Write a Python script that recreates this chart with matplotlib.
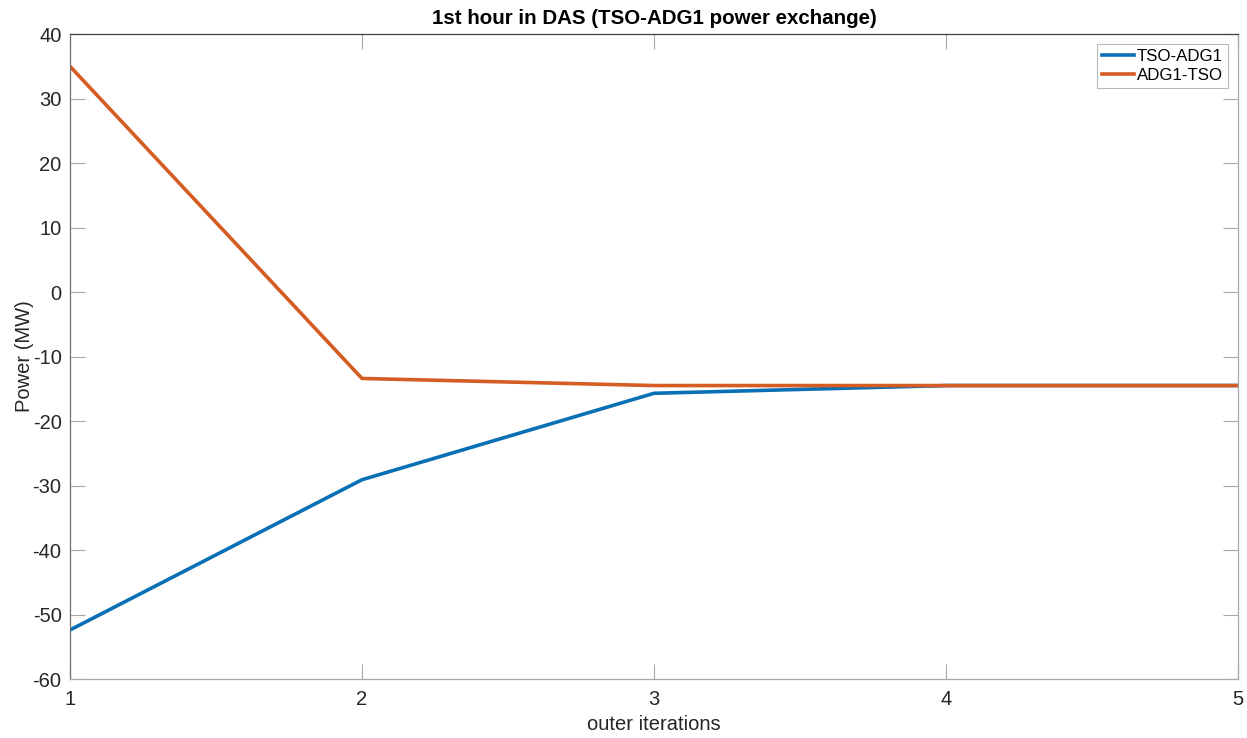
import matplotlib
matplotlib.use('Agg')
import matplotlib.pyplot as plt

iterations = [1, 2, 3, 4, 5]
tso_adg1 = [-52.4, -29.1, -15.7, -14.5, -14.5]
adg1_tso = [35.0, -13.4, -14.5, -14.5, -14.5]

plt.rcParams['font.family'] = ['Liberation Sans', 'DejaVu Sans']
plt.rcParams['axes.unicode_minus'] = False

fig = plt.figure(figsize=(12.47, 7.38), dpi=100)
ax = fig.add_axes([0.0561, 0.0799, 0.9367, 0.874])

ax.plot(iterations, tso_adg1, color='#0A70B5', lw=2.6, label='TSO-ADG1')
ax.plot(iterations, adg1_tso, color='#D55C22', lw=2.6, label='ADG1-TSO')

ax.set_xlim(1, 5)
ax.set_ylim(-60, 40)
ax.set_xticks(iterations)
ax.set_yticks(range(-60, 41, 10))

for s in ax.spines.values():
    s.set_color('#a8a8a8')
    s.set_linewidth(0.9)
ax.spines['top'].set_color('#404040')
ax.spines['left'].set_color('#707070')
ax.tick_params(direction='in', length=11, width=0.8, color='#a8a8a8',
               labelsize=14.5, labelcolor='#262626', top=True, right=True)
ax.tick_params(axis='x', pad=8)
ax.tick_params(axis='y', pad=6)

ax.set_xlabel('outer iterations', fontsize=14.5, color='#262626', labelpad=4)
ax.set_ylabel('Power (MW)', fontsize=14.5, color='#262626', labelpad=-1)
ax.set_title('1st hour in DAS (TSO-ADG1 power exchange)', fontsize=14.8,
             fontweight='bold', pad=7)

leg = ax.legend(loc='upper right', fontsize=12.2, fancybox=False,
                handlelength=1.9, handletextpad=0.15, borderpad=0.3,
                labelspacing=0.2, borderaxespad=0.6)
leg.get_frame().set_edgecolor('#a8a8a8')
leg.get_frame().set_linewidth(0.8)

fig.savefig('out.png', dpi=100)
